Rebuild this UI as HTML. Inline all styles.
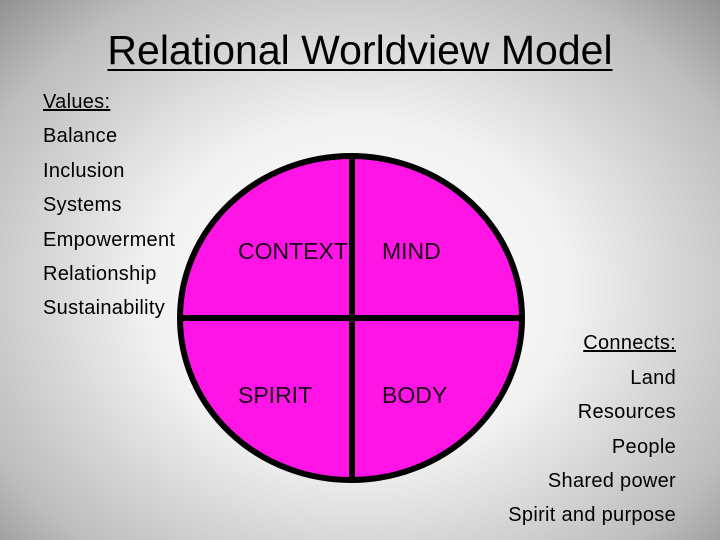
<!DOCTYPE html>
<html><head><style>
body{margin:0;width:720px;height:540px;overflow:hidden;background:radial-gradient(ellipse 520px 420px at 360px 290px,#ffffff 0%,#f2f2f2 40%,#bdbdbd 80%,#8c8c8c 100%);font-family:"Liberation Sans",sans-serif;position:relative}
.t{position:absolute;white-space:nowrap;color:#000}
.l{left:43px;font-size:20px;letter-spacing:0.3px}
.r{right:44px;font-size:20px;letter-spacing:0.3px;text-align:right}
</style></head><body>
<div class="t" style="left:0;width:720px;text-align:center;top:27px;font-size:41px;"><span style="text-decoration:underline;text-decoration-thickness:2px;text-underline-offset:5px">Relational Worldview Model</span></div>
<div class="t l" style="top:91px;text-decoration:underline">Values:</div>
<div class="t l" style="top:125px">Balance</div>
<div class="t l" style="top:160px">Inclusion</div>
<div class="t l" style="top:194px">Systems</div>
<div class="t l" style="top:229px">Empowerment</div>
<div class="t l" style="top:263px">Relationship</div>
<div class="t l" style="top:297px">Sustainability</div>
<svg style="position:absolute;left:0;top:0" width="720" height="540">
<ellipse cx="351" cy="318" rx="171" ry="162" fill="#ff14e6" stroke="#000" stroke-width="6"/>
<line x1="352" y1="153" x2="352" y2="483" stroke="#000" stroke-width="6"/>
<line x1="180" y1="318" x2="522" y2="318" stroke="#000" stroke-width="6"/>
<g font-family="Liberation Sans,sans-serif" font-size="23" fill="#1a0018">
<text x="238" y="259">CONTEXT</text><text x="382" y="259">MIND</text>
<text x="238" y="403">SPIRIT</text><text x="382" y="403">BODY</text></g>
</svg>
<div class="t r" style="top:332px;text-decoration:underline">Connects:</div>
<div class="t r" style="top:367px">Land</div>
<div class="t r" style="top:401px">Resources</div>
<div class="t r" style="top:436px">People</div>
<div class="t r" style="top:470px">Shared power</div>
<div class="t r" style="top:504px">Spirit and purpose</div>
</body></html>
